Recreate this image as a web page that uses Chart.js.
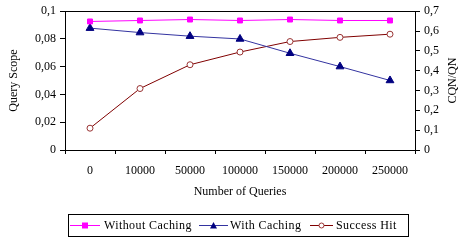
<!DOCTYPE html>
<html>
<head>
<meta charset="utf-8">
<script src="https://cdn.jsdelivr.net/npm/chart.js@4/dist/chart.umd.min.js"></script>
<style>
html,body{margin:0;padding:0;background:#fff;}
#wrap{width:467px;height:240px;position:relative;}
</style>
</head>
<body>
<div id="wrap"><canvas id="c" width="467" height="240"></canvas></div>
<script>
const categories = ["0", "10000", "50000", "100000", "150000", "200000", "250000"];
const withoutCaching = [0.0926, 0.0933, 0.0940, 0.0933, 0.0940, 0.0933, 0.0933];
const withCaching = [0.0878, 0.0846, 0.0820, 0.0800, 0.0697, 0.0601, 0.0501];
const successHit = [0.11, 0.31, 0.43, 0.494, 0.547, 0.568, 0.584];
const leftTickLabels = ["0", "0,02", "0,04", "0,06", "0,08", "0,1"];
const rightTickLabels = ["0", "0,1", "0,2", "0,3", "0,4", "0,5", "0,6", "0,7"];
const seriesNames = ["Without Caching", "With Caching", "Success Hit"];
const xTitle = "Number of Queries";
const leftTitle = "Query Scope";
const rightTitle = "CQN/QN";

const FONT = "'Liberation Serif', 'Times New Roman', serif";

function fontString() {
  return Chart.helpers.toFont({ family: FONT, size: 12 }).string;
}

const rightTitlePlugin = {
  id: 'rightTitle',
  afterDraw(chart) {
    const ctx = chart.ctx;
    const ca = chart.chartArea;
    ctx.save();
    ctx.font = fontString();
    ctx.fillStyle = "#000";
    ctx.textAlign = "center";
    ctx.textBaseline = "middle";
    ctx.translate(453, (ca.top + ca.bottom) / 2);
    ctx.rotate(-Math.PI / 2);
    ctx.fillText(rightTitle, 0, 0);
    ctx.restore();
  }
};

const legendPlugin = {
  id: 'boxLegend',
  afterDraw(chart) {
    const ctx = chart.ctx;
    ctx.save();
    const bx = 68.5, by = 214.5, bw = 340, bh = 22;
    ctx.strokeStyle = "#000";
    ctx.lineWidth = 1;
    ctx.strokeRect(bx, by, bw, bh);
    ctx.font = fontString();
    if ('letterSpacing' in ctx) ctx.letterSpacing = "0.4px";
    ctx.textBaseline = "middle";
    ctx.textAlign = "left";
    const cy = by + bh / 2;
    const lineStart = [70, 199, 310];
    const lineEnd = [100, 228, 333];
    const textStart = [104, 230, 336];
    chart.data.datasets.forEach((ds, i) => {
      const x0 = lineStart[i], x1 = lineEnd[i];
      ctx.strokeStyle = ds.borderColor;
      ctx.lineWidth = 1;
      ctx.beginPath();
      ctx.moveTo(x0, cy);
      ctx.lineTo(x1, cy);
      ctx.stroke();
      const mx = (x0 + x1) / 2;
      ctx.fillStyle = ds.pointBackgroundColor;
      ctx.strokeStyle = ds.pointBorderColor;
      ctx.beginPath();
      if (ds.pointStyle === 'rect') {
        ctx.rect(mx - 3, cy - 3, 6, 6);
        ctx.fill();
      } else if (ds.pointStyle === 'triangle') {
        ctx.moveTo(mx, cy - 3.5);
        ctx.lineTo(mx + 3.5, cy + 3);
        ctx.lineTo(mx - 3.5, cy + 3);
        ctx.closePath();
        ctx.fill();
      } else {
        ctx.arc(mx, cy, 2.5, 0, Math.PI * 2);
        ctx.fill();
        ctx.stroke();
      }
      ctx.fillStyle = "#000";
      ctx.fillText(ds.label, textStart[i], cy + 0.5);
    });
    ctx.restore();
  }
};

new Chart(document.getElementById('c'), {
  type: 'line',
  data: {
    labels: categories,
    datasets: [
      {
        label: seriesNames[0], data: withoutCaching, yAxisID: 'y',
        borderColor: '#FF00FF', backgroundColor: '#FF00FF', borderWidth: 1,
        pointStyle: 'rect', pointRadius: 3.5, pointBackgroundColor: '#FF00FF', pointBorderColor: '#FF00FF', pointBorderWidth: 1,
        tension: 0
      },
      {
        label: seriesNames[1], data: withCaching, yAxisID: 'y',
        borderColor: '#3333A0', backgroundColor: '#000080', borderWidth: 1,
        pointStyle: 'triangle', pointRadius: 4.5, pointBackgroundColor: '#000080', pointBorderColor: '#000080', pointBorderWidth: 1,
        tension: 0
      },
      {
        label: seriesNames[2], data: successHit, yAxisID: 'y2',
        borderColor: '#800000', backgroundColor: '#FFFFFF', borderWidth: 1,
        pointStyle: 'circle', pointRadius: 3, pointBackgroundColor: '#FFFFFF', pointBorderColor: '#993333', pointBorderWidth: 1,
        tension: 0
      }
    ]
  },
  options: {
    responsive: false,
    animation: false,
    devicePixelRatio: 1,
    layout: { padding: { top: 5, bottom: 40, left: 0, right: 0 } },
    plugins: { legend: { display: false }, tooltip: { enabled: false } },
    scales: {
      x: {
        type: 'category',
        offset: true,
        grid: { display: true, offset: true, drawOnChartArea: false, drawTicks: true, tickLength: 4, color: '#000', lineWidth: 1 },
        border: { display: true, color: '#000', width: 1 },
        ticks: { color: '#000', font: { family: FONT, size: 12 }, padding: 10, maxRotation: 0, autoSkip: false },
        title: { display: true, text: xTitle, color: '#000', font: { family: FONT, size: 12 }, padding: { top: 0, bottom: 1 } },
        afterFit(s) { s.height = 50; }
      },
      y: {
        position: 'left',
        min: 0, max: 0.1,
        grid: { display: true, drawOnChartArea: false, drawTicks: true, tickLength: 5, color: '#000' },
        border: { display: true, color: '#000', width: 1 },
        ticks: { stepSize: 0.02, color: '#000', font: { family: FONT, size: 12 }, padding: 4,
          callback: (v, i) => leftTickLabels[i] },
        title: { display: true, text: leftTitle, color: '#000', font: { family: FONT, size: 12 }, padding: { top: 7, bottom: 0 } },
        afterFit(s) { s.width = 65; }
      },
      y2: {
        position: 'right',
        min: 0, max: 0.7,
        grid: { display: true, drawOnChartArea: false, drawTicks: true, tickLength: 5, color: '#000' },
        border: { display: true, color: '#000', width: 1 },
        ticks: { stepSize: 0.1, color: '#000', font: { family: FONT, size: 12 }, padding: 4,
          callback: (v, i) => rightTickLabels[i] },
        afterFit(s) { s.width = 52; }
      }
    }
  },
  plugins: [rightTitlePlugin, legendPlugin, {
    id: 'topBorder',
    afterDraw(chart) {
      const ctx = chart.ctx, ca = chart.chartArea;
      ctx.save();
      ctx.strokeStyle = '#000';
      ctx.lineWidth = 1;
      ctx.beginPath();
      ctx.moveTo(ca.left, Math.round(ca.top) + 0.5);
      ctx.lineTo(ca.right, Math.round(ca.top) + 0.5);
      ctx.stroke();
      ctx.restore();
    }
  }]
});
</script>
</body>
</html>
